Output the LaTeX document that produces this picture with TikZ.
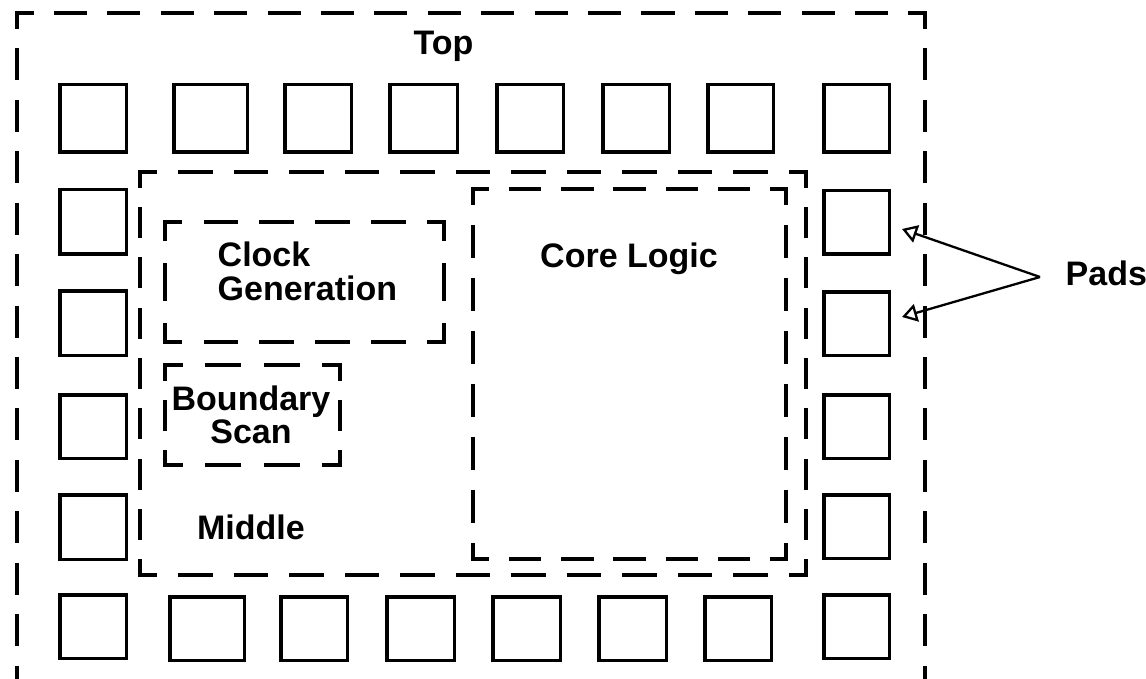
\documentclass[tikz,border=0pt]{standalone}
\usepackage{fontspec}
\setmainfont{Liberation Sans}
\usetikzlibrary{arrows.meta,calc}

% One side of a dashed outline, cut into #5 equal periods so that
% every corner gets a half dash on each of its two sides.
\newcommand\dashside[5]{%
  \pgfmathsetmacro\rgLen{veclen((#3)-(#1),(#4)-(#2))}%
  \pgfmathsetmacro\rgPer{\rgLen/#5}%
  \pgfmathsetmacro\rgOn{0.62*\rgPer-3.4}%
  \pgfmathsetmacro\rgOff{\rgPer-\rgOn}%
  \pgfmathsetmacro\rgPh{\rgOn/2}%
  \draw[outline, dash pattern=on \rgOn pt off \rgOff pt, dash phase=\rgPh pt]
    (#1,#2) -- (#3,#4);}
% Dashed rectangle from (#1,#2) to (#3,#4); #5 periods across, #6 periods down
\newcommand\dashregion[6]{%
  \dashside{#1}{#2}{#3}{#2}{#5}\dashside{#1}{#4}{#3}{#4}{#5}%
  \dashside{#1}{#2}{#1}{#4}{#6}\dashside{#3}{#2}{#3}{#4}{#6}}
% A bonding pad named #1 with outer edges x #2..#4, y #3..#5
\newcommand\padcell[5]{%
  \node[pad, minimum width={#4-#2-3.5}, minimum height={#5-#3-3.5}]
    (#1) at ({(#2+#4)/2},{(#3+#5)/2}) {};}

\begin{document}
\begin{tikzpicture}[x=1pt, y=-1pt,
  outline/.style={line width=3.4pt, line cap=rect},
  pad/.style={draw, rectangle, line width=3.5pt, inner sep=0pt, outer sep=1.75pt},
  label/.style={inner sep=0pt, font=\fontsize{34}{33.5}\selectfont\bfseries},
  pointer/.style={line width=2.3pt, -{Triangle[open, length=15pt, width=18pt]}}]

\fill[white] (0,0) rectangle (1146,679);
\useasboundingbox (0,0) rectangle (1146,679);

% hierarchy outlines
\dashregion{17}{13}{925}{733}{17}{14}    % top level
\dashregion{140}{172}{806}{575}{12}{8}   % middle
\dashregion{473}{189}{786}{559}{6}{7}    % core logic
\dashregion{165}{222}{444}{342}{5}{2}    % clock generation
\dashregion{165}{365}{340}{465}{3}{2}    % boundary scan

% pad ring: top row
\padcell{t1}{58}{83}{128}{154}
\padcell{t2}{172}{83}{249}{154}
\padcell{t3}{283}{83}{353}{154}
\padcell{t4}{388}{83}{459}{154}
\padcell{t5}{495}{83}{565}{154}
\padcell{t6}{601}{83}{671}{154}
\padcell{t7}{706}{83}{775}{154}
\padcell{t8}{822}{83}{891}{154}
% left column
\padcell{l1}{58}{188}{128}{256}
\padcell{l2}{58}{289}{128}{357}
\padcell{l3}{58}{393}{128}{460}
\padcell{l4}{58}{493}{128}{561}
% right column
\padcell{r1}{822}{189}{891}{256}
\padcell{r2}{822}{290}{891}{357}
\padcell{r3}{822}{393}{891}{460}
\padcell{r4}{822}{493}{891}{560}
% bottom row
\padcell{b1}{58}{593}{128}{660}
\padcell{b2}{168}{595}{246}{662}
\padcell{b3}{279}{595}{349}{662}
\padcell{b4}{385}{595}{456}{662}
\padcell{b5}{491}{595}{562}{662}
\padcell{b6}{597}{595}{668}{662}
\padcell{b7}{703}{595}{773}{662}
\padcell{b8}{822}{593}{891}{660}

% labels
\node[label, anchor=base] (toplbl) at (443.5,55) {Top};
\node[label, anchor=west, align=left] (clock) at (217.5,271.5) {Clock\\Generation};
\node[label, align=center] (bscan) at (251,415) {Boundary\\Scan};
\node[label, anchor=base] (middle) at (251,539) {Middle};
\node[label, anchor=base] (core) at (629,268) {Core Logic};
\node[label, anchor=base west] (pads) at (1065.5,285) {Pads};

% callout arrows to the pads
\coordinate (fork) at ($(pads.base west)+(-25.5,-8)$);
\coordinate (tipA) at ($(r1.east)+(11,6.5)$);
\coordinate (tipB) at ($(r2.east)+(11,-6.5)$);
\draw[pointer] (fork) -- (tipA);
\draw[pointer] (fork) -- (tipB);
\end{tikzpicture}
\end{document}
